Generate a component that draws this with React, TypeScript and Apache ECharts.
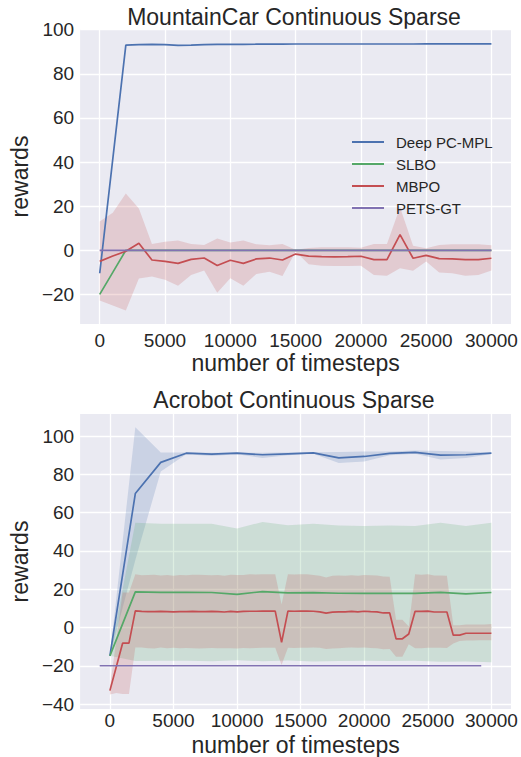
import React, { useEffect, useRef } from "react";
import * as echarts from "echarts";

const FONT = '"Liberation Sans", Arial, Helvetica, sans-serif';
const TEXT = "#262626";
const BG = "#EAEAF2";
const C_BLUE = "#4C72B0";
const C_GREEN = "#55A868";
const C_RED = "#C44E52";
const C_PURPLE = "#8172B2";

const seriesNames = ["Deep PC-MPL", "SLBO", "MBPO", "PETS-GT"];
const titles = ["MountainCar Continuous Sparse", "Acrobot Continuous Sparse"];
const xLabel = "number of timesteps";
const yLabel = "rewards";

const xTicks = [0, 5000, 10000, 15000, 20000, 25000, 30000];
const yTicksTop = [-20, 0, 20, 40, 60, 80, 100];
const yTicksBottom = [-40, -20, 0, 20, 40, 60, 80, 100];

// ---- MountainCar (top) ----
const mcSteps = Array.from({ length: 31 }, (_, i) => i * 1000);
const mcDeep = [
  -10.4, 41.3, 93.0, 93.2, 93.3, 93.2, 92.9, 93.0, 93.2, 93.3, 93.3, 93.3, 93.4, 93.4, 93.4, 93.5,
  93.5, 93.5, 93.5, 93.5, 93.5, 93.5, 93.5, 93.5, 93.5, 93.6, 93.6, 93.6, 93.6, 93.6, 93.6,
];
const mcSlbo = [
  -20, -10, 0, 0, 0, 0, 0, 0, 0, 0, 0, 0, 0, 0, 0, 0, 0, 0, 0, 0, 0, 0, 0, 0, 0, 0, 0, 0, 0, 0, 0,
];
const mcMbpo = [
  -5.0, -2.6, -0.4, 3.2, -4.4, -5.0, -5.9, -4.1, -3.5, -6.9, -4.5, -5.9, -3.9, -3.5, -4.4, -1.7,
  -2.6, -2.9, -3.0, -2.9, -2.7, -4.2, -4.2, 7.1, -3.6, -2.3, -3.8, -3.9, -4.2, -4.2, -3.6,
];
const mcMbpoHigh = [
  13.0, 17.0, 25.8, 19.0, 2.9, 3.9, 4.4, 2.9, 2.4, 5.4, 3.5, 4.4, 2.7, 2.3, 2.9, 0.2,
  1.1, 1.4, 1.4, 1.4, 1.2, 2.9, 2.9, 19.5, 2.1, 0.9, 2.4, 2.7, 2.7, 2.7, 2.3,
];
const mcMbpoLow = [
  -22.8, -25.0, -27.3, -12.8, -11.9, -13.4, -16.1, -11.2, -9.2, -19.2, -12.7, -16.1, -10.7, -9.7, -11.6, -0.6,
  -6.3, -7.0, -7.1, -7.1, -7.0, -11.2, -11.5, -8.1, -9.3, -5.1, -10.1, -10.4, -11.5, -11.2, -9.2,
];
const mcPetsSteps = [0, 30000];
const mcPets = [0, 0];

// ---- Acrobot (bottom) ----
const acSteps = Array.from({ length: 16 }, (_, i) => i * 2000);
const acDeep = [-14.8, 70.0, 86.3, 91.1, 90.6, 91.1, 90.3, 90.8, 91.3, 88.7, 89.4, 91.0, 91.5, 90.1, 90.3, 91.1];
const acDeepHigh = [-14.8, 104.7, 91.5, 91.5, 91.4, 91.5, 91.3, 91.5, 91.6, 91.8, 92.0, 92.0, 92.5, 92.3, 92.0, 91.5];
const acDeepLow = [-14.8, 35.3, 81.6, 90.6, 89.6, 90.5, 88.6, 90.0, 90.8, 86.0, 86.8, 90.0, 90.8, 87.8, 88.6, 90.7];
const acSlbo = [-14.8, 18.6, 18.4, 18.4, 18.3, 17.3, 18.8, 18.1, 18.2, 17.9, 17.8, 17.9, 17.8, 18.4, 17.6, 18.3];
const acSlboHigh = [-14.8, 54.7, 54.2, 54.2, 54.2, 51.7, 55.2, 53.5, 54.2, 53.3, 53.0, 53.3, 53.0, 54.7, 53.0, 54.7];
const acSlboLow = [-14.8, -17.5, -17.4, -17.4, -17.6, -17.1, -17.6, -17.3, -17.8, -17.5, -17.4, -17.5, -17.4, -17.9, -17.8, -18.1];
const acMbpoSteps = Array.from({ length: 61 }, (_, i) => i * 500);
const acMbpo = [
  -33.0, -20.6, -8.2, -8.2, 8.7,
  8.4, 8.3, 8.3, 8.4, 8.3, 8.2, 8.3, 8.3, 8.4, 8.3, 8.3, 8.4, 8.3, 8.1, 8.4, 8.2, 8.4, 8.5, 8.5, 8.6, 8.6, 8.6,
  -7.8,
  8.6, 8.5, 8.6, 8.6, 8.5, 8.2, 7.5, 8.0, 8.2, 8.2, 8.4, 8.2, 8.5, 8.3, 8.2, 7.6, 7.6,
  -5.9, -5.9, -3.4,
  8.5, 8.4, 8.6, 8.1, 8.1, 8.1,
  -4.0, -4.0, -3.0, -3.0, -3.0, -3.0, -3.0,
];
const acMbpoHigh = [
  -31.0, -6.9, 18.3, 18.3, 27.8,
  27.3, 27.5, 27.6, 27.2, 27.4, 27.0, 27.5, 27.3, 27.6, 27.6, 27.4, 27.3, 27.5, 27.0, 27.6, 27.4, 27.5, 27.8, 27.7, 27.8, 27.8, 27.8,
  12.0,
  27.8, 27.7, 27.8, 27.8, 27.5, 27.0, 26.2, 27.0, 27.2, 27.0, 27.3, 27.0, 27.5, 27.3, 27.2, 26.6, 26.5,
  4.0, 4.0, 0.5,
  27.8, 27.6, 27.8, 27.2, 27.2, 27.0,
  1.2, 1.2, 1.6, 1.6, 1.6, 1.6, 1.8,
];
const acMbpoLow = [
  -35.0, -34.3, -34.7, -34.7, -10.4,
  -10.5, -10.9, -11.0, -10.4, -10.8, -10.6, -10.9, -10.7, -10.8, -11.0, -10.8, -10.7, -10.9, -10.8, -10.8, -11.0, -10.7, -10.8, -10.7, -10.6, -10.6, -10.6,
  -19.6,
  -10.6, -10.7, -10.6, -10.6, -10.5, -10.6, -11.2, -11.0, -10.8, -10.6, -10.5, -10.6, -10.5, -10.7, -10.8, -11.4, -11.3,
  -15.3, -15.3, -8.7,
  -10.8, -10.8, -10.6, -10.6, -10.6, -10.7,
  -8.4, -7.0, -6.8, -6.8, -6.7, -6.6, -6.6,
];
const acPetsSteps = [-800, 29200];
const acPets = [-20, -20];

// axis ranges
const xRangeTop = [-1500, 31500];
const yRangeTop = [-33.4, 100.3];
const xRangeBottom = [-2340, 31540];
const yRangeBottom = [-42.6, 111.6];

const pairs = (xs: number[], ys: number[]) => xs.map((x, i) => [x, ys[i]]);

function lineSeries(name: string, idx: number, xs: number[], ys: number[], color: string) {
  return {
    type: "line",
    name,
    xAxisIndex: idx,
    yAxisIndex: idx,
    data: pairs(xs, ys),
    symbol: "none",
    showSymbol: false,
    clip: true,
    itemStyle: { color },
    lineStyle: { color, width: 1.7 },
    emphasis: { disabled: true },
    silent: true,
  };
}

function bandSeries(name: string, idx: number, xs: number[], lo: number[], hi: number[], color: string) {
  return {
    type: "custom",
    name,
    xAxisIndex: idx,
    yAxisIndex: idx,
    data: xs.map((x, i) => [x, lo[i], hi[i]]),
    encode: { x: 0, y: [1, 2] },
    clip: true,
    silent: true,
    renderItem: (params: any, api: any) => {
      if (params.dataIndex !== 0) return { type: "group", children: [] };
      const pts: number[][] = [];
      for (let i = 0; i < xs.length; i++) pts.push(api.coord([xs[i], hi[i]]));
      for (let i = xs.length - 1; i >= 0; i--) pts.push(api.coord([xs[i], lo[i]]));
      return {
        type: "polygon",
        shape: { points: pts },
        style: { fill: color, opacity: 0.2, stroke: "none" },
      };
    },
  };
}

function xAxis(idx: number, range: number[], labelMargin: number, nameGap: number) {
  return {
    type: "value",
    gridIndex: idx,
    min: range[0],
    max: range[1],
    name: xLabel,
    nameLocation: "middle",
    nameGap,
    nameTextStyle: { fontSize: 23, color: TEXT, fontFamily: FONT },
    axisLine: { show: false },
    axisTick: { show: false, customValues: xTicks },
    axisLabel: {
      customValues: xTicks,
      fontSize: 19,
      color: TEXT,
      fontFamily: FONT,
      margin: labelMargin,
      formatter: (v: number) => String(v),
    },
    splitLine: { show: true, lineStyle: { color: "#ffffff", width: 1.3 } },
  };
}

function yAxis(idx: number, range: number[], ticks: number[]) {
  return {
    type: "value",
    gridIndex: idx,
    min: range[0],
    max: range[1],
    name: yLabel,
    nameLocation: "middle",
    nameGap: 36,
    nameTextStyle: { fontSize: 23, color: TEXT, fontFamily: FONT },
    axisLine: { show: false },
    axisTick: { show: false, customValues: ticks },
    axisLabel: {
      customValues: ticks,
      fontSize: 19,
      color: TEXT,
      fontFamily: FONT,
      margin: 6,
      formatter: (v: number) => (v < 0 ? "\u2212" + String(-v) : String(v)),
    },
    splitLine: { show: true, lineStyle: { color: "#ffffff", width: 1.3 } },
  };
}

export default function App() {
  const ref = useRef<HTMLDivElement>(null);
  useEffect(() => {
    if (!ref.current) return;
    const chart = echarts.init(ref.current, null, { renderer: "svg" });
    const option: any = {
      animation: false,
      backgroundColor: "#ffffff",
      textStyle: { fontFamily: FONT, color: TEXT },
      grid: [
        { left: 77, top: 29, width: 434, height: 295, show: true, backgroundColor: BG, borderWidth: 0 },
        { left: 77, top: 414, width: 434, height: 296, show: true, backgroundColor: BG, borderWidth: 0 },
      ],
      xAxis: [xAxis(0, xRangeTop, 7, 27), xAxis(1, xRangeBottom, 2, 24)],
      yAxis: [yAxis(0, yRangeTop, yTicksTop), yAxis(1, yRangeBottom, yTicksBottom)],
      legend: {
        data: seriesNames,
        orient: "vertical",
        left: 352,
        top: 131,
        padding: 0,
        itemGap: 0,
        icon: "rect",
        itemWidth: 32,
        itemHeight: 2,
        textStyle: { fontSize: 15, color: TEXT, fontFamily: FONT, lineHeight: 22, padding: [0, 0, 0, 7] },
        selectedMode: false,
      },
      graphic: [
        {
          type: "text",
          x: 294,
          y: 17,
          style: { text: titles[0], fontSize: 23, fontFamily: FONT, fill: TEXT, textAlign: "center", textVerticalAlign: "middle" },
        },
        {
          type: "text",
          x: 294,
          y: 400,
          style: { text: titles[1], fontSize: 23, fontFamily: FONT, fill: TEXT, textAlign: "center", textVerticalAlign: "middle" },
        },
      ],
      series: [
        // top
        lineSeries(seriesNames[0], 0, mcSteps, mcDeep, C_BLUE),
        lineSeries(seriesNames[1], 0, mcSteps, mcSlbo, C_GREEN),
        bandSeries("mc-mbpo-band", 0, mcSteps, mcMbpoLow, mcMbpoHigh, C_RED),
        lineSeries(seriesNames[2], 0, mcSteps, mcMbpo, C_RED),
        lineSeries(seriesNames[3], 0, mcPetsSteps, mcPets, C_PURPLE),
        // bottom
        bandSeries("ac-deep-band", 1, acSteps, acDeepLow, acDeepHigh, C_BLUE),
        lineSeries(seriesNames[0], 1, acSteps, acDeep, C_BLUE),
        bandSeries("ac-slbo-band", 1, acSteps, acSlboLow, acSlboHigh, C_GREEN),
        lineSeries(seriesNames[1], 1, acSteps, acSlbo, C_GREEN),
        bandSeries("ac-mbpo-band", 1, acMbpoSteps, acMbpoLow, acMbpoHigh, C_RED),
        lineSeries(seriesNames[2], 1, acMbpoSteps, acMbpo, C_RED),
        lineSeries(seriesNames[3], 1, acPetsSteps, acPets, C_PURPLE),
      ],
    };
    chart.setOption(option);
    return () => chart.dispose();
  }, []);
  return (
    <div
      ref={ref}
      style={{ position: "absolute", left: 0, top: 0, width: 521, height: 757 }}
    />
  );
}
